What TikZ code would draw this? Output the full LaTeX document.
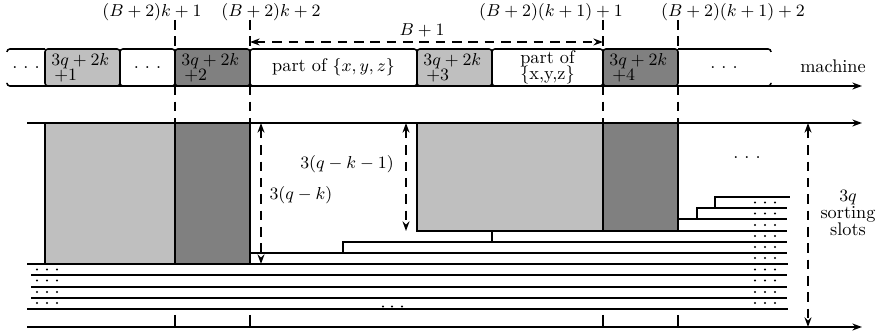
\documentclass[tikz,border=0pt]{standalone}
\usepackage{amsmath}
\usepackage{amssymb}
\usepackage{tikz}
\usepackage{xcolor}
\usetikzlibrary{arrows.meta, positioning}
\definecolor{SlotLight}{gray}{0.75}
\definecolor{SlotDark}{gray}{0.5}

\begin{document}
\begin{tikzpicture}[x=0.52pt, y=-0.52pt,
  every node/.style={font=\fontsize{9.5}{11}\selectfont},
  line/.style={thick},
  cell/.style={thick, rounded corners=1.5pt},
  guide/.style={thick, dash pattern=on 5pt off 3.5pt},
  axis/.style={thick, -{Stealth[length=5pt, width=3.6pt]}},
  dim/.style={thick, dash pattern=on 5pt off 3.5pt,
    {Stealth[length=5pt, width=3.6pt]}-{Stealth[length=5pt, width=3.6pt]}},
  celltext/.style={align=left, anchor=west, inner sep=0pt}]
  \useasboundingbox (0,0) rectangle (877,334);

  % column labels and guides
  \node (lab1) at (152,12) {$(B+2)k+1$};
  \node (lab2) at (271,12) {$(B+2)k+2$};
  \node (lab3) at (551,12) {$(B+2)(k+1)+1$};
  \node (lab4) at (733,12) {$(B+2)(k+1)+2$};
  \foreach \x [count=\i] in {175,250,603,678} {
    \coordinate (gt\i) at (\x,20);
    \coordinate (gb\i) at (\x,123);
    \draw[guide] (gt\i) -- (gb\i);
  }
  \coordinate (bl) at (250,42);
  \coordinate (br) at (603,42);
  \draw[dim] (bl) -- (br);
  \node (blen) at (422,30) {$B+1$};

  % machine
  \foreach \a/\b/\c in {45/120/SlotLight, 120/175/white, 175/250/SlotDark,
    250/417/white, 417/492/SlotLight, 492/603/white, 603/678/SlotDark}
    \draw[cell, fill=\c] (\a,49) rectangle (\b,86);
  \draw[cell] (45,49) -- (7,49) -- (7,52);
  \draw[cell] (7,83) -- (7,86) -- (45,86);
  \draw[cell] (678,49) -- (771,49) -- (771,52);
  \draw[cell] (771,83) -- (771,86) -- (740,86);
  \coordinate (m0) at (10,86);
  \coordinate (m1) at (862,86);
  \draw[axis] (m0) -- (m1);

  \node (d0) at (26,67.5) {.~.~.};
  \node[celltext] (j1) at (51,67.5) {$3q+2k$\\[-3pt]$\,+1$};
  \node (d1) at (147.5,67.5) {.~.~.};
  \node[celltext] (j2) at (181,67.5) {$3q+2k$\\[-3pt]$\,+2$};
  \node (p1) at (333.5,67.5) {part of $\{x, y, z\}$};
  \node[celltext] (j3) at (423,67.5) {$3q+2k$\\[-3pt]$\,+3$};
  \node[align=center] (p2) at (547.5,67.5) {part of\\[-2.5pt]\{x,y,z\}};
  \node[celltext] (j4) at (609,67.5) {$3q+2k$\\[-3pt]$\,+4$};
  \node (d2) at (724,67.5) {.~.~.};
  \node (mach) at (833,66) {machine};

  % sorting slots
  \coordinate (s0) at (27,123);
  \coordinate (s1) at (862,123);
  \coordinate (e0) at (27,327);
  \coordinate (e1) at (862,327);
  \draw[axis] (s0) -- (s1);
  \draw[line, fill=SlotLight] (45,123) rectangle (175,264);
  \draw[line, fill=SlotDark] (175,123) rectangle (250,264);
  \draw[line, fill=SlotLight] (417,123) rectangle (603,231);
  \draw[line, fill=SlotDark] (603,123) rectangle (678,231);

  \foreach \c in {383,392,402}
    \fill (\c,306.5) circle (0.55pt);
  \foreach \xl/\y in {715/197, 697/208, 678/219, 678/231, 343/242, 250/253}
    \draw[line] (\xl,\y) -- (787,\y);
  \foreach \y in {264,309}
    \draw[line] (27,\y) -- (788,\y);
  \foreach \y in {275,287,298}
    \draw[line] (31,\y) -- (787,\y);
  \draw[line] (678,219) -| (697,208) -| (715,197) -- (790,197);
  \draw[line] (492,231) |- (343,242) |- (250,253);
  \foreach \y in {202.5,213.5,225,236,247,258,269.5,280.5,292,303}
    \foreach \c in {755,765,775}
      \fill (\c,\y) circle (0.55pt);
  \foreach \y in {269.5,280.5,292,303}
    \foreach \c in {37,47,57}
      \fill (\c,\y) circle (0.55pt);
  \foreach \x in {175,250,603,678}
    \draw[line] (\x,315) -- (\x,327);
  \draw[axis] (e0) -- (e1);
  \node (more) at (747,158) {.~.~.};

  % heights
  \coordinate (h0) at (261,123);
  \coordinate (h1) at (261,264);
  \draw[dim] (h0) -- (h1);
  \node (hk) at (301,195) {$3(q-k)$};
  \coordinate (i0) at (406,123);
  \coordinate (i1) at (406,231);
  \draw[dim] (i0) -- (i1);
  \node (hk1) at (347,164) {$3(q-k-1)$};
  \coordinate (q0) at (808,123);
  \coordinate (q1) at (808,327);
  \draw[dim] (q0) -- (q1);
  \node[align=center] (hq) at (848,213) {$3q$\\[-2.2pt]sorting\\[-2.2pt]slots};
\end{tikzpicture}
\end{document}
